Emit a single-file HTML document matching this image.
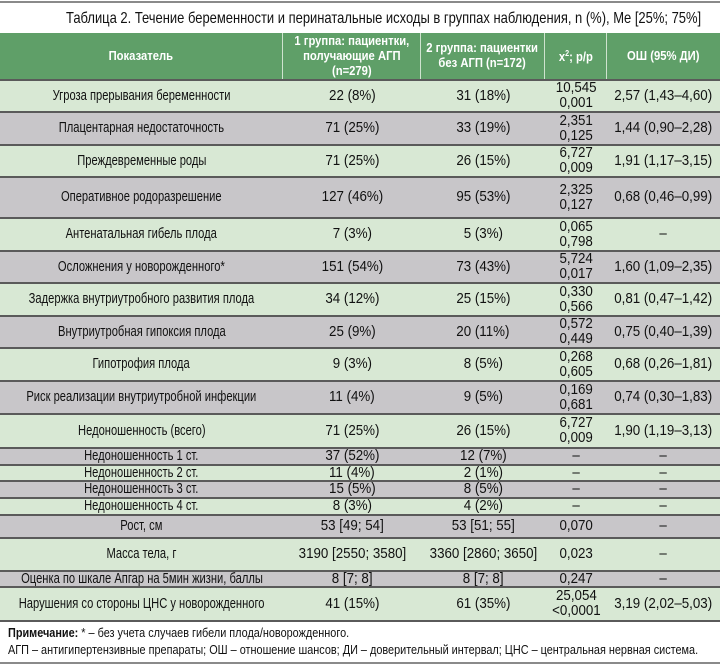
<!DOCTYPE html>
<html><head><meta charset="utf-8"><style>
body{margin:0;width:720px;height:666px;background:#fff;position:relative;overflow:hidden;font-family:"Liberation Sans",sans-serif;color:#111}
.top{position:absolute;left:0;top:1px;width:720px;height:2px;background:#8a8a8a}
.title{position:absolute;left:66px;top:10px;font-size:16px;white-space:nowrap;transform:scaleX(.81);transform-origin:0 0}
.row{position:absolute;left:0;width:720px;border-bottom:2px solid #5a5a5a;box-sizing:border-box;font-size:14.5px}
.row div{position:absolute;top:0;height:100%;display:flex;align-items:center;justify-content:center;text-align:center;line-height:15px;white-space:nowrap}
.row span{display:inline-block;transform:scaleX(.92)}
.row .c0 span{transform:scaleX(.77)}
.g{background:#d8e8d4}.s{background:#c8c6c9}
.hd{background:#5f9f68;color:#fff;font-weight:bold;font-size:12.5px;border-bottom:2px solid #5a5a5a}
.hd div{border-right:1px solid #cfe3cf;box-sizing:border-box}
.hd span,.hd .c0 span{transform:scaleX(.9)}
.c0{left:0;width:283px}.c1{left:283px;width:138px}.c2{left:421px;width:124px}.c3{left:545px;width:62px}.c4{left:607px;width:113px;border-right:none!important}
.note{position:absolute;left:8px;font-size:12.5px;white-space:nowrap;transform:scaleX(.87);transform-origin:0 0}
.bot{position:absolute;left:0;top:662px;width:720px;height:2px;background:#8a8a8a}
</style></head><body>
<div class="top"></div>
<div class="title">Таблица 2. Течение беременности и перинатальные исходы в группах наблюдения, n (%), Me [25%; 75%]</div>
<div class="row hd" style="top:33px;height:48px"><div class="c0"><span>Показатель</span></div><div class="c1"><span>1 группа: пациентки,<br>получающие АГП<br>(n=279)</span></div><div class="c2"><span>2 группа: пациентки<br>без АГП (n=172)</span></div><div class="c3"><span>x<sup style="font-size:8px">2</sup>; p/p</span></div><div class="c4"><span>ОШ (95% ДИ)</span></div></div>
<div class="row g" style="top:81px;height:32px"><div class="c0"><span>Угроза прерывания беременности</span></div><div class="c1"><span>22 (8%)</span></div><div class="c2"><span>31 (18%)</span></div><div class="c3"><span>10,545<br>0,001</span></div><div class="c4"><span>2,57 (1,43–4,60)</span></div></div>
<div class="row s" style="top:113px;height:33px"><div class="c0"><span>Плацентарная недостаточность</span></div><div class="c1"><span>71 (25%)</span></div><div class="c2"><span>33 (19%)</span></div><div class="c3"><span>2,351<br>0,125</span></div><div class="c4"><span>1,44 (0,90–2,28)</span></div></div>
<div class="row g" style="top:146px;height:32px"><div class="c0"><span>Преждевременные роды</span></div><div class="c1"><span>71 (25%)</span></div><div class="c2"><span>26 (15%)</span></div><div class="c3"><span>6,727<br>0,009</span></div><div class="c4"><span>1,91 (1,17–3,15)</span></div></div>
<div class="row s" style="top:178px;height:41px"><div class="c0"><span>Оперативное родоразрешение</span></div><div class="c1"><span>127 (46%)</span></div><div class="c2"><span>95 (53%)</span></div><div class="c3"><span>2,325<br>0,127</span></div><div class="c4"><span>0,68 (0,46–0,99)</span></div></div>
<div class="row g" style="top:219px;height:33px"><div class="c0"><span>Антенатальная гибель плода</span></div><div class="c1"><span>7 (3%)</span></div><div class="c2"><span>5 (3%)</span></div><div class="c3"><span>0,065<br>0,798</span></div><div class="c4"><span>–</span></div></div>
<div class="row s" style="top:252px;height:32px"><div class="c0"><span>Осложнения у новорожденного*</span></div><div class="c1"><span>151 (54%)</span></div><div class="c2"><span>73 (43%)</span></div><div class="c3"><span>5,724<br>0,017</span></div><div class="c4"><span>1,60 (1,09–2,35)</span></div></div>
<div class="row g" style="top:284px;height:33px"><div class="c0"><span>Задержка внутриутробного развития плода</span></div><div class="c1"><span>34 (12%)</span></div><div class="c2"><span>25 (15%)</span></div><div class="c3"><span>0,330<br>0,566</span></div><div class="c4"><span>0,81 (0,47–1,42)</span></div></div>
<div class="row s" style="top:317px;height:32px"><div class="c0"><span>Внутриутробная гипоксия плода</span></div><div class="c1"><span>25 (9%)</span></div><div class="c2"><span>20 (11%)</span></div><div class="c3"><span>0,572<br>0,449</span></div><div class="c4"><span>0,75 (0,40–1,39)</span></div></div>
<div class="row g" style="top:349px;height:33px"><div class="c0"><span>Гипотрофия плода</span></div><div class="c1"><span>9 (3%)</span></div><div class="c2"><span>8 (5%)</span></div><div class="c3"><span>0,268<br>0,605</span></div><div class="c4"><span>0,68 (0,26–1,81)</span></div></div>
<div class="row s" style="top:382px;height:33px"><div class="c0"><span>Риск реализации внутриутробной инфекции</span></div><div class="c1"><span>11 (4%)</span></div><div class="c2"><span>9 (5%)</span></div><div class="c3"><span>0,169<br>0,681</span></div><div class="c4"><span>0,74 (0,30–1,83)</span></div></div>
<div class="row g" style="top:415px;height:34px"><div class="c0"><span>Недоношенность (всего)</span></div><div class="c1"><span>71 (25%)</span></div><div class="c2"><span>26 (15%)</span></div><div class="c3"><span>6,727<br>0,009</span></div><div class="c4"><span>1,90 (1,19–3,13)</span></div></div>
<div class="row s" style="top:449px;height:17px"><div class="c0"><span>Недоношенность 1 ст.</span></div><div class="c1"><span>37 (52%)</span></div><div class="c2"><span>12 (7%)</span></div><div class="c3"><span>–</span></div><div class="c4"><span>–</span></div></div>
<div class="row g" style="top:466px;height:16px"><div class="c0"><span>Недоношенность 2 ст.</span></div><div class="c1"><span>11 (4%)</span></div><div class="c2"><span>2 (1%)</span></div><div class="c3"><span>–</span></div><div class="c4"><span>–</span></div></div>
<div class="row s" style="top:482px;height:17px"><div class="c0"><span>Недоношенность 3 ст.</span></div><div class="c1"><span>15 (5%)</span></div><div class="c2"><span>8 (5%)</span></div><div class="c3"><span>–</span></div><div class="c4"><span>–</span></div></div>
<div class="row g" style="top:499px;height:17px"><div class="c0"><span>Недоношенность 4 ст.</span></div><div class="c1"><span>8 (3%)</span></div><div class="c2"><span>4 (2%)</span></div><div class="c3"><span>–</span></div><div class="c4"><span>–</span></div></div>
<div class="row s" style="top:516px;height:23px"><div class="c0"><span>Рост, см</span></div><div class="c1"><span>53 [49; 54]</span></div><div class="c2"><span>53 [51; 55]</span></div><div class="c3"><span>0,070</span></div><div class="c4"><span>–</span></div></div>
<div class="row g" style="top:539px;height:33px"><div class="c0"><span>Масса тела, г</span></div><div class="c1"><span>3190 [2550; 3580]</span></div><div class="c2"><span>3360 [2860; 3650]</span></div><div class="c3"><span>0,023</span></div><div class="c4"><span>–</span></div></div>
<div class="row s" style="top:572px;height:16px"><div class="c0"><span>Оценка по шкале Апгар на 5мин жизни, баллы</span></div><div class="c1"><span>8 [7; 8]</span></div><div class="c2"><span>8 [7; 8]</span></div><div class="c3"><span>0,247</span></div><div class="c4"><span>–</span></div></div>
<div class="row g" style="top:588px;height:34px"><div class="c0"><span>Нарушения со стороны ЦНС у новорожденного</span></div><div class="c1"><span>41 (15%)</span></div><div class="c2"><span>61 (35%)</span></div><div class="c3"><span>25,054<br>&lt;0,0001</span></div><div class="c4"><span>3,19 (2,02–5,03)</span></div></div>
<div class="note" style="top:626px"><b>Примечание:</b> * – без учета случаев гибели плода/новорожденного.</div>
<div class="note" style="top:643px">АГП – антигипертензивные препараты; ОШ – отношение шансов; ДИ – доверительный интервал; ЦНС – центральная нервная система.</div>
<div class="bot"></div>
</body></html>
